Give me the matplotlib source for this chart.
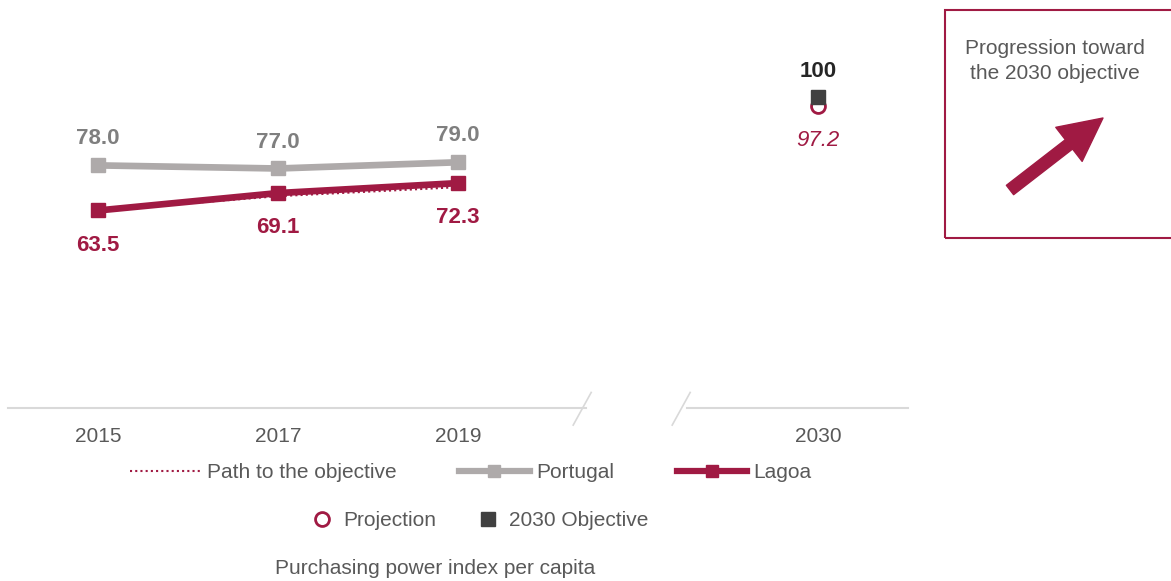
import matplotlib
matplotlib.use("Agg")
import matplotlib.pyplot as plt
import numpy as np
from matplotlib.lines import Line2D
from matplotlib.patches import Rectangle, FancyArrowPatch, ArrowStyle

plt.rcParams['font.family'] = ['Liberation Sans', 'DejaVu Sans']

# data
years = ["2015", "2017", "2019"]
target_year = "2030"
portugal = [78.0, 77.0, 79.0]
lagoa = [63.5, 69.1, 72.3]
path_objective = [63.5, 68.1, 71.0]
projection_2030 = 97.2
objective_2030 = 100

crimson = "#a01a43"
grey_line = "#aeaaaa"
grey_lab = "#7f7f7f"
text_col = "#595959"
dark = "#404040"

fig = plt.figure(figsize=(11.71, 5.81), dpi=100)
ax = fig.add_axes([8 / 1171, 1 - 408 / 581, 900 / 1171, 357.7 / 581])

x = np.arange(len(years))
x_t = len(years) + 1  # leave a gap for the axis break

ax.plot(x, path_objective, color=crimson, lw=1.5, ls=(0, (1, 1.5)), zorder=2)
ax.plot(x, portugal, color=grey_line, lw=4.8, marker="s", ms=10.5, zorder=3)
ax.plot(x, lagoa, color=crimson, lw=4.8, marker="s", ms=10.5, zorder=4)
ax.plot([x_t], [projection_2030], ls="none", marker="o", ms=10, mfc="white",
        mec=crimson, mew=2, zorder=4)
ax.plot([x_t], [objective_2030], ls="none", marker="s", ms=10, color=dark, zorder=5)

for xi, v in zip(x, portugal):
    ax.annotate(f"{v:.1f}", (xi, v), xytext=(0, 19), textcoords="offset points",
                ha="center", va="center", fontsize=16, fontweight="bold", color=grey_lab)
for xi, v in zip(x, lagoa):
    ax.annotate(f"{v:.1f}", (xi, v), xytext=(0, -25), textcoords="offset points",
                ha="center", va="center", fontsize=16, fontweight="bold", color=crimson)
ax.annotate(f"{objective_2030}", (x_t, objective_2030), xytext=(0, 18), textcoords="offset points",
            ha="center", va="center", fontsize=16, fontweight="bold", color="#262626")
ax.annotate(f"{projection_2030:.1f}", (x_t, projection_2030), xytext=(0, -25),
            textcoords="offset points", ha="center", va="center", fontsize=16,
            fontstyle="italic", color=crimson)

ax.set_xlim(-0.5, 4.5)
ax.set_ylim(0, 115)
for s in ax.spines.values():
    s.set_visible(False)
ax.set_yticks([])
ax.set_xticks(list(x) + [x_t])
ax.set_xticklabels(years + [target_year], fontsize=15, color=text_col)
ax.tick_params(axis="x", length=0, pad=14)

# broken axis line
axc = "#d9d9d9"
ax.plot([-0.5, 2.71], [0, 0], color=axc, lw=1.5, clip_on=False)
ax.plot([3.27, 4.5], [0, 0], color=axc, lw=1.5, clip_on=False)
ax.plot([2.64, 2.74], [-5.5, 5], color=axc, lw=1.2, clip_on=False)
ax.plot([3.19, 3.29], [-5.5, 5], color=axc, lw=1.2, clip_on=False)

# legends
h1 = [Line2D([], [], color=crimson, lw=1.5, ls=(0, (1, 1.5))),
      Line2D([], [], color=grey_line, lw=4.5, marker="s", ms=8),
      Line2D([], [], color=crimson, lw=4.5, marker="s", ms=8)]
fig.legend(h1, ["Path to the objective", "Portugal", "Lagoa"], ncol=3,
           loc="center", bbox_to_anchor=(0.402, 0.186), frameon=False,
           fontsize=15, handlelength=3.4, handletextpad=0.3, columnspacing=3.0,
           labelcolor=text_col)
h2 = [Line2D([], [], ls="none", marker="o", ms=10, mfc="white", mec=crimson, mew=2),
      Line2D([], [], ls="none", marker="s", ms=10, color=dark)]
fig.legend(h2, ["Projection", "2030 Objective"], ncol=2, loc="center",
           bbox_to_anchor=(0.41, 0.104), frameon=False, fontsize=15,
           handlelength=1.0, handletextpad=0.5, columnspacing=2.0, labelcolor=text_col)

fig.text(0.372, 0.022, "Purchasing power index per capita", ha="center", va="center",
         fontsize=15, color=text_col)

# side box
fig.patches.append(Rectangle((945 / 1171, 1 - 238 / 581), 0.3, 228 / 581,
                             transform=fig.transFigure, fill=False, ec=crimson, lw=1.5))
fig.text(1055 / 1171, 1 - 61 / 581, "Progression toward\nthe 2030 objective", ha="center",
         va="center", fontsize=15, color=text_col, linespacing=1.4)
arr = FancyArrowPatch((1010 / 1171, 1 - 190 / 581), (1103 / 1171, 1 - 118 / 581),
                      transform=fig.transFigure,
                      arrowstyle=ArrowStyle.Simple(head_length=31, head_width=31, tail_width=8.5),
                      mutation_scale=1, color=crimson, shrinkA=0, shrinkB=0)
fig.patches.append(arr)

fig.savefig("out.png", dpi=100)
